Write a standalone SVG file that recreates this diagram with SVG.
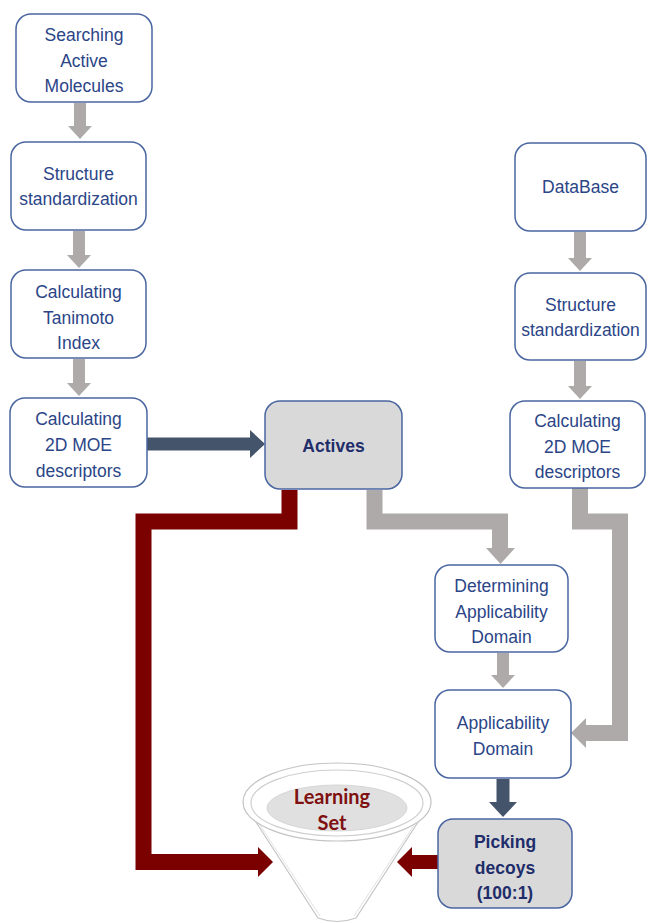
<svg xmlns="http://www.w3.org/2000/svg" width="648" height="923" viewBox="0 0 648 923">
<style>
.box{fill:#ffffff;stroke:#4a66a0;stroke-width:1.5}
.gbox{fill:#d9d9d9;stroke:#4a66a0;stroke-width:1.5}
.t{font-family:"Liberation Sans",Arial,sans-serif;font-size:17.5px;fill:#2b4587;text-anchor:middle}
.tb{font-family:"Liberation Sans",Arial,sans-serif;font-size:17.5px;font-weight:bold;fill:#1f2d6b;text-anchor:middle}
.gs{fill:none;stroke:#aeaaaa;stroke-width:16;stroke-linejoin:miter}
.gh{fill:#aeaaaa}
.gsv{fill:none;stroke:#aeaaaa;stroke-width:12}
.bs{fill:none;stroke:#44546a;stroke-width:13}
.bh{fill:#44546a}
.rs{fill:none;stroke:#7b0000;stroke-width:16;stroke-linejoin:miter}
.rh{fill:#7b0000}
.lt{font-family:Lato,"Open Sans",sans-serif;font-size:20px;font-weight:bold;fill:#7f1010;text-anchor:middle}
</style>
<rect width="648" height="923" fill="#ffffff"/>
<g id="connectors">
  <line class="gsv" x1="80" y1="103" x2="80" y2="127"/>
  <polygon class="gh" points="68,126 92,126 80,139"/>
  <line class="gsv" x1="79" y1="231" x2="79" y2="256"/>
  <polygon class="gh" points="67,255 91,255 79,268"/>
  <line class="gsv" x1="79" y1="359" x2="79" y2="384"/>
  <polygon class="gh" points="67,383 91,383 79,396"/>
  <line class="gsv" x1="580" y1="232" x2="580" y2="259"/>
  <polygon class="gh" points="568,258 592,258 580,271"/>
  <line class="gsv" x1="580" y1="361" x2="580" y2="387"/>
  <polygon class="gh" points="568,386 592,386 580,399"/>
  <line class="gsv" x1="503" y1="653" x2="503" y2="676"/>
  <polygon class="gh" points="491,675 515,675 503,688"/>
  <line class="bs" x1="147" y1="444" x2="251" y2="444"/>
  <polygon class="bh" points="250,430 265,444 250,458"/>
  <line class="bs" x1="503" y1="779" x2="503" y2="803"/>
  <polygon class="bh" points="489,802 517,802 503,817"/>
  <path class="gs" d="M374.5 490 V521.5 H500 V549"/>
  <polygon class="gh" points="486,548 515,548 500.5,564"/>
  <path class="gs" d="M580 488 V521.5 H620 V733 H585"/>
  <polygon class="gh" points="586,718 586,748 571,733"/>
  <path class="rs" d="M289.5 490 V521.5 H143.5 V862 H259"/>
  <polygon class="rh" points="258,847 273,862 258,877"/>
  <line class="rs" x1="438" y1="862" x2="411" y2="862" style="stroke-width:14"/>
  <polygon class="rh" points="412,847 397,862 412,877"/>
</g>
<g id="n1"><rect class="box" x="16" y="14" width="136" height="88" rx="15"/>
  <text class="t" x="84" y="41">Searching</text><text class="t" x="84" y="67">Active</text><text class="t" x="84" y="92">Molecules</text></g>
<g id="n2"><rect class="box" x="11" y="142" width="135" height="88" rx="15"/>
  <text class="t" x="78.5" y="180">Structure</text><text class="t" x="78.5" y="205">standardization</text></g>
<g id="n3"><rect class="box" x="11" y="270" width="135" height="88" rx="15"/>
  <text class="t" x="78.5" y="298">Calculating</text><text class="t" x="78.5" y="324">Tanimoto</text><text class="t" x="78.5" y="349">Index</text></g>
<g id="n4"><rect class="box" x="10" y="398" width="137" height="89" rx="15"/>
  <text class="t" x="78.5" y="425">Calculating</text><text class="t" x="78.5" y="451">2D MOE</text><text class="t" x="78.5" y="477">descriptors</text></g>
<g id="actives"><rect class="gbox" x="265" y="401" width="137" height="88" rx="15"/>
  <text class="tb" x="333.5" y="452">Actives</text></g>
<g id="database"><rect class="box" x="515" y="143" width="131" height="88" rx="15"/>
  <text class="t" x="580.5" y="193">DataBase</text></g>
<g id="n6"><rect class="box" x="515" y="273" width="131" height="87" rx="15"/>
  <text class="t" x="580.5" y="311">Structure</text><text class="t" x="580.5" y="336">standardization</text></g>
<g id="n7"><rect class="box" x="510" y="401" width="135" height="87" rx="15"/>
  <text class="t" x="577.5" y="427">Calculating</text><text class="t" x="577.5" y="453">2D MOE</text><text class="t" x="577.5" y="478">descriptors</text></g>
<g id="detad"><rect class="box" x="435" y="565" width="133" height="87" rx="15"/>
  <text class="t" x="501.5" y="592">Determining</text><text class="t" x="501.5" y="618">Applicability</text><text class="t" x="501.5" y="643">Domain</text></g>
<g id="ad"><rect class="box" x="435" y="690" width="136" height="88" rx="15"/>
  <text class="t" x="503" y="729">Applicability</text><text class="t" x="503" y="755">Domain</text></g>
<g id="picking"><rect class="gbox" x="438" y="819" width="134" height="89" rx="15"/>
  <text class="tb" x="505" y="848">Picking</text><text class="tb" x="505" y="874">decoys</text><text class="tb" x="505" y="899">(100:1)</text></g>
<g id="learning">
  <path d="M243 802 L318 918 Q337 925 356 918 L431 802" fill="#ffffff" stroke="#c4c4c4" stroke-width="1.2"/>
  <path d="M246 804 L320 916 M428 804 L354 916" fill="none" stroke="#e2e2e2" stroke-width="1"/>
  <ellipse cx="337" cy="802" rx="94" ry="39" fill="#ffffff" stroke="#c4c4c4" stroke-width="1.2"/>
  <ellipse cx="337" cy="803" rx="86" ry="33" fill="#ffffff" stroke="#cfcfcf" stroke-width="1.2"/>
  <ellipse cx="337" cy="808" rx="70" ry="23" fill="#e0e0e0" stroke="#d6d6d6" stroke-width="1"/>
  <text class="lt" x="332" y="804">Learning</text>
  <text class="lt" x="332" y="830">Set</text>
</g>
</svg>
